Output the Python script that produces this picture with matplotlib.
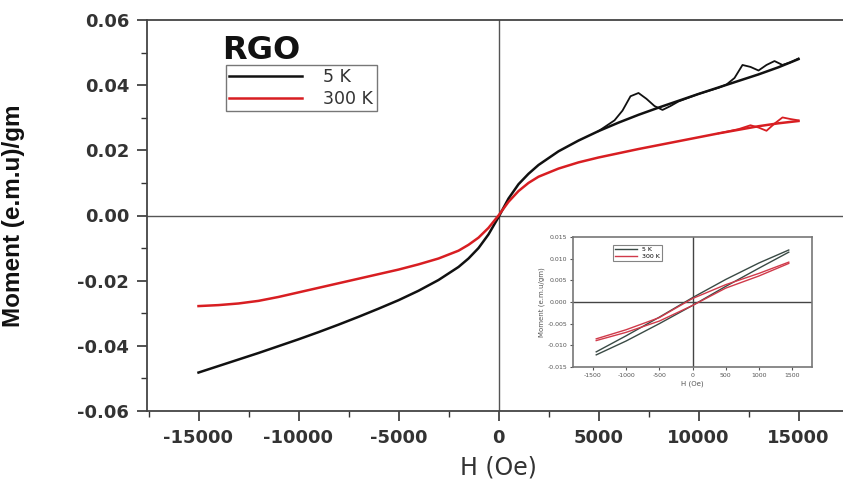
import matplotlib
matplotlib.use("Agg")
import matplotlib.pyplot as plt
from matplotlib.ticker import MultipleLocator, FormatStrFormatter

plt.rcParams["axes.unicode_minus"] = False

# ---------------- data ----------------
H_main = [-15000, -14000, -13000, -12000, -11000, -10000, -9000, -8000, -7000,
          -6000, -5000, -4000, -3000, -2000, -1500, -1000, -500, 0, 500, 1000,
          1500, 2000, 3000, 4000, 5000, 6000, 7000, 8000, 9000, 10000, 11000,
          12000, 13000, 14000, 15000]
M_5K = [-0.0482, -0.0462, -0.0442, -0.0422, -0.0401, -0.0380, -0.0358, -0.0335,
        -0.0311, -0.0286, -0.0260, -0.0231, -0.0198, -0.0158, -0.0132, -0.0100,
        -0.0058, -0.0005, 0.0052, 0.0096, 0.0128, 0.0155, 0.0197, 0.0230,
        0.0259, 0.0285, 0.0309, 0.0331, 0.0352, 0.0373, 0.0393, 0.0413,
        0.0433, 0.0455, 0.0480]
M_300K = [-0.0278, -0.0275, -0.0270, -0.0262, -0.0250, -0.0236, -0.0222, -0.0208,
          -0.0194, -0.0180, -0.0166, -0.0150, -0.0132, -0.0108, -0.0090, -0.0068,
          -0.0038, 0.0000, 0.0042, 0.0075, 0.0100, 0.0119, 0.0144, 0.0163,
          0.0178, 0.0191, 0.0204, 0.0216, 0.0228, 0.0240, 0.0252, 0.0263,
          0.0274, 0.0283, 0.0290]

# return branches with the noisy loops at high field
H_5K_ret = [15000, 14600, 14200, 13800, 13400, 13000, 12600, 12200, 11800, 11400,
            11000, 10000, 9000, 8600, 8200, 7800, 7400, 7000, 6600, 6200, 5800, 5000]
M_5K_ret = [0.0482, 0.0470, 0.0462, 0.0474, 0.0462, 0.0445, 0.0456, 0.0462, 0.0422,
            0.0402, 0.0392, 0.0373, 0.0350, 0.0336, 0.0324, 0.0336, 0.0358, 0.0376,
            0.0366, 0.0322, 0.0292, 0.0259]
H_300K_ret = [15000, 14600, 14200, 13800, 13400, 13000, 12600, 12000, 11000]
M_300K_ret = [0.0292, 0.0296, 0.0301, 0.0282, 0.0260, 0.0270, 0.0277, 0.0265, 0.0252]

# inset (low field) data
H_in = [-1450, -1000, -500, 0, 500, 1000, 1450]
M_in_5K_up = [-0.0115, -0.0078, -0.0035, 0.0010, 0.0052, 0.0090, 0.0120]
M_in_5K_dn = [-0.0122, -0.0090, -0.0050, -0.0008, 0.0036, 0.0078, 0.0115]
M_in_300K_up = [-0.0085, -0.0064, -0.0036, 0.0008, 0.0040, 0.0066, 0.0092]
M_in_300K_dn = [-0.0089, -0.0070, -0.0044, -0.0008, 0.0032, 0.0060, 0.0089]

x_ticks = [-15000, -10000, -5000, 0, 5000, 10000, 15000]
y_ticks = [-0.06, -0.04, -0.02, 0.00, 0.02, 0.04, 0.06]
in_x_ticks = [-1500, -1000, -500, 0, 500, 1000, 1500]
in_y_ticks = [-0.015, -0.010, -0.005, 0.000, 0.005, 0.010, 0.015]

labels = ["5 K", "300 K"]
colors = ["#111111", "#d81e22"]

# ---------------- figure ----------------
fig = plt.figure(figsize=(8.43, 4.92), dpi=100)
L, R, T, B = 147.3, 849.7, 20, 411
ax = fig.add_axes([L / 843, 1 - B / 492, (R - L) / 843, (B - T) / 492])

ax.plot(H_main, M_5K, color=colors[0], lw=1.8, label=labels[0])
ax.plot(H_5K_ret, M_5K_ret, color=colors[0], lw=1.3)
ax.plot(H_main, M_300K, color=colors[1], lw=1.8, label=labels[1])
ax.plot(H_300K_ret, M_300K_ret, color=colors[1], lw=1.3)

ax.axhline(0, color="#555555", lw=1.0, zorder=0)
ax.axvline(0, color="#555555", lw=1.0, zorder=0)

ax.set_xlim(-17560, 17560)
ax.set_ylim(-0.06, 0.06)
ax.set_xticks(x_ticks)
ax.set_yticks(y_ticks)
ax.xaxis.set_minor_locator(MultipleLocator(2500))
ax.yaxis.set_minor_locator(MultipleLocator(0.01))
ax.yaxis.set_major_formatter(FormatStrFormatter("%.2f"))
ax.tick_params(which="major", direction="out", length=7, width=1.2, colors="#333333",
               labelsize=13, pad=6)
ax.tick_params(which="minor", direction="out", length=4, width=1.0, colors="#333333")
for lab in ax.get_xticklabels() + ax.get_yticklabels():
    lab.set_fontweight("bold")
    lab.set_color("#333333")
for s in ["left", "bottom", "top", "right"]:
    ax.spines[s].set_color("#444444")
    ax.spines[s].set_linewidth(1.3)

ax.set_xlabel("H (Oe)", fontsize=17, color="#333333", labelpad=6)
ax.set_ylabel("Moment (e.m.u)/gm", fontsize=17.5, fontweight="bold", color="#111111",
              family=["Liberation Sans", "DejaVu Sans"])
ax.yaxis.set_label_coords((25 - L) / (R - L), 0.5)

fig.text(222 / 843, 1 - 59 / 492, "RGO", fontsize=23, fontweight="bold", color="#111111",
         ha="left", va="baseline")
leg = ax.legend(loc="upper left", bbox_to_anchor=((226 - L) / (R - L), 1 - (65 - T) / (B - T)),
                fontsize=12.5, frameon=True, fancybox=False, edgecolor="#555555",
                handlelength=4.2, handletextpad=1.2, borderpad=0.2, labelspacing=0.2,
                borderaxespad=0)
leg.get_frame().set_linewidth(1.0)
for t in leg.get_texts():
    t.set_color("#333333")

# ---------------- inset ----------------
axi = fig.add_axes([573 / 843, 1 - 367 / 492, (812 - 573) / 843, (367 - 237) / 492])
axi.plot(H_in, M_in_5K_up, color="#3a4a45", lw=1.0, label=labels[0])
axi.plot(H_in, M_in_5K_dn, color="#3a4a45", lw=1.0)
axi.plot(H_in, M_in_300K_up, color="#d03a4a", lw=1.0, label=labels[1])
axi.plot(H_in, M_in_300K_dn, color="#d03a4a", lw=1.0)
axi.axhline(0, color="#444444", lw=1.0, zorder=0)
axi.axvline(0, color="#444444", lw=1.0, zorder=0)
axi.set_xlim(-1800, 1800)
axi.set_ylim(-0.015, 0.015)
axi.set_xticks(in_x_ticks)
axi.set_yticks(in_y_ticks)
axi.yaxis.set_major_formatter(FormatStrFormatter("%.3f"))
axi.tick_params(direction="out", length=2.5, width=0.8, labelsize=4.5, colors="#555555", pad=1.5)
for s in axi.spines.values():
    s.set_color("#777777")
    s.set_linewidth(1.2)
axi.set_xlabel("H (Oe)", fontsize=5, color="#555555", labelpad=2)
axi.set_ylabel("Moment (e.m.u/gm)", fontsize=5, color="#555555", labelpad=2)
li = axi.legend(loc="upper left", bbox_to_anchor=((613 - 573) / 239, 1 - (245 - 237) / 130),
                fontsize=4.5, frameon=True, fancybox=False, edgecolor="#666666",
                handlelength=3.5, borderpad=0.3, labelspacing=0.2, borderaxespad=0)
li.get_frame().set_linewidth(0.8)

fig.savefig("out.png", dpi=100)
